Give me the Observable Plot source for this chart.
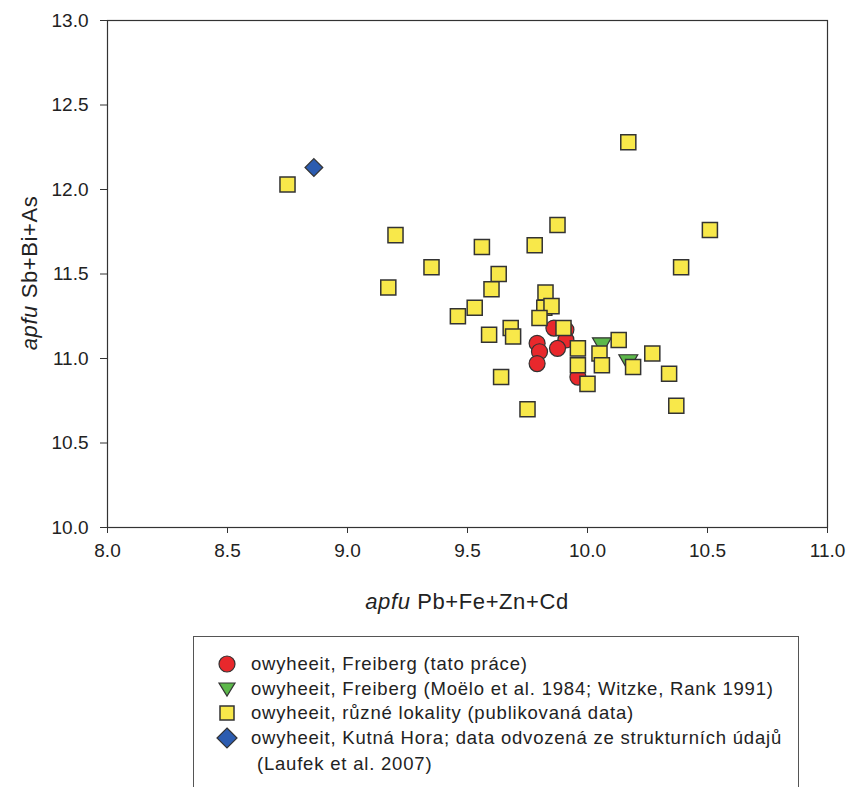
<!DOCTYPE html>
<html>
<head>
<meta charset="utf-8">
<script src="https://cdn.jsdelivr.net/npm/d3@7"></script>
<script src="https://cdn.jsdelivr.net/npm/@observablehq/plot@0.6"></script>
<style>
  html, body { margin: 0; padding: 0; background: #fff; }
  body { width: 849px; height: 787px; overflow: hidden; font-family: "Liberation Sans", Arial, sans-serif; color: #222; }
  #legend { position: absolute; left: 193px; top: 636px; width: 606px; height: 170px; border: 1px solid #555; box-sizing: border-box; }
  .item { position: absolute; left: 22px; display: flex; align-items: center; font-size: 18.5px; letter-spacing: 0.8px; line-height: 22px; white-space: pre; }
  .item svg { width: 22px; height: 22px; margin-right: 13px; flex: none; }
</style>
</head>
<body>
<div id="chart"></div>
<div id="legend"></div>
<script>
// Series labels
const seriesNames = [
  "owyheeit, Freiberg (tato práce)",
  "owyheeit, Freiberg (Moëlo et al. 1984; Witzke, Rank 1991)",
  "owyheeit, různé lokality (publikovaná data)",
  "owyheeit, Kutná Hora; data odvozená ze strukturních údajů",
  " (Laufek et al. 2007)"
];
// Axis ticks
const xTicks = [8.0, 8.5, 9.0, 9.5, 10.0, 10.5, 11.0];
const yTicks = [10.0, 10.5, 11.0, 11.5, 12.0, 12.5, 13.0];

// Red circles: Freiberg (this work)
const redX = [9.86, 9.91, 9.91, 9.875, 9.79, 9.80, 9.79, 9.96];
const redY = [11.18, 11.17, 11.11, 11.06, 11.09, 11.04, 10.97, 10.89];

// Green triangles: Freiberg (Moëlo; Witzke, Rank)
const greenX = [10.06, 10.17];
const greenY = [11.09, 10.99];

// Yellow squares: various localities
const yellowX = [8.75, 9.20, 9.35, 9.17, 9.56, 9.63, 9.60, 9.53, 9.46, 9.78, 9.875, 10.17, 10.51, 10.39,
                 9.825, 9.82, 9.85, 9.80, 9.68, 9.69, 9.59, 9.90, 9.96, 9.96, 10.00, 9.64, 9.75,
                 10.13, 10.05, 10.06, 10.27, 10.19, 10.34, 10.37];
const yellowY = [12.03, 11.73, 11.54, 11.42, 11.66, 11.50, 11.41, 11.30, 11.25, 11.67, 11.79, 12.28, 11.76, 11.54,
                 11.39, 11.30, 11.31, 11.24, 11.18, 11.13, 11.14, 11.18, 11.06, 10.96, 10.85, 10.89, 10.70,
                 11.11, 11.03, 10.96, 11.03, 10.95, 10.91, 10.72];

// Blue diamond: Kutná Hora
const blueX = [8.86];
const blueY = [12.13];

const colors = { red: "#e8282c", green: "#5cb84a", yellow: "#f8e84a", blue: "#2c5cb0" };
const strokeC = "#333";

const toRows = (xs, ys) => xs.map((x, i) => ({x, y: ys[i]}));
const red = toRows(redX, redY);
const green = toRows(greenX, greenY);
const yellow = toRows(yellowX, yellowY);
const blue = toRows(blueX, blueY);

const fmt = d3.format(".1f");

const chart = Plot.plot({
  width: 849,
  height: 626,
  marginLeft: 107,
  marginRight: 22,
  marginTop: 20,
  marginBottom: 99,
  style: { fontFamily: "'Liberation Sans', Arial, sans-serif", fontSize: "19px", color: "#222", background: "#fff" },
  x: { domain: [8, 11], label: null },
  y: { domain: [10, 13], label: null },
  marks: [
    Plot.frame({ stroke: "#333", strokeWidth: 1.2 }),
    Plot.axisX({ ticks: xTicks, tickFormat: fmt, tickSize: 6, tickPadding: 10, label: null, stroke: "#333", fontSize: 19 }),
    Plot.axisY({ ticks: yTicks, tickFormat: fmt, tickSize: 7, tickPadding: 12, label: null, stroke: "#333", fontSize: 19 }),
    Plot.dot(red, { x: "x", y: "y", symbol: "circle", r: 8, fill: colors.red, stroke: strokeC, strokeWidth: 1.2 }),
    Plot.dot(green, { x: "x", y: "y", symbol: "triangle", rotate: 180, r: 7, fill: colors.green, stroke: strokeC, strokeWidth: 1.2 }),
    Plot.dot(yellow, { x: "x", y: "y", symbol: "square", r: 8.5, fill: colors.yellow, stroke: strokeC, strokeWidth: 1.5 }),
    Plot.dot(blue, { x: "x", y: "y", symbol: "diamond2", r: 8, fill: colors.blue, stroke: strokeC, strokeWidth: 1.2 })
  ]
});

const svg = d3.select(chart);
svg.selectAll("text").each(function() {
  this.style.fontSize = "19px";
  this.style.fill = "#222";
});

// Axis titles with italic "apfu"
const xt = svg.append("text")
  .attr("x", 467).attr("y", 609)
  .attr("text-anchor", "middle")
  .attr("font-size", 22).attr("letter-spacing", "0.6").attr("fill", "#222");
xt.append("tspan").attr("font-style", "italic").text("apfu");
xt.append("tspan").text(" Pb+Fe+Zn+Cd");

const yt = svg.append("text")
  .attr("transform", "translate(37,273) rotate(-90)")
  .attr("text-anchor", "middle")
  .attr("font-size", 22).attr("letter-spacing", "0.6").attr("fill", "#222");
yt.append("tspan").attr("font-style", "italic").text("apfu");
yt.append("tspan").text(" Sb+Bi+As");

document.getElementById("chart").appendChild(chart);

// Legend
const legend = document.getElementById("legend");
const symbols = [
  `<circle cx="11" cy="11" r="8" fill="${colors.red}" stroke="${strokeC}" stroke-width="1.2"/>`,
  `<path d="M3,5 L19,5 L11,18 Z" fill="${colors.green}" stroke="${strokeC}" stroke-width="1.2"/>`,
  `<rect x="4" y="4" width="14" height="14" fill="${colors.yellow}" stroke="${strokeC}" stroke-width="1.5"/>`,
  `<path d="M11,1 L21,11 L11,21 L1,11 Z" fill="${colors.blue}" stroke="${strokeC}" stroke-width="1.2"/>`,
  ``
];
const tops = [16, 41, 65, 90, 116];
seriesNames.forEach((name, i) => {
  const d = document.createElement("div");
  d.className = "item";
  d.style.top = tops[i] + "px";
  d.innerHTML = `<svg viewBox="0 0 22 22">${symbols[i]}</svg><span></span>`;
  d.querySelector("span").textContent = name;
  legend.appendChild(d);
});
</script>
</body>
</html>
